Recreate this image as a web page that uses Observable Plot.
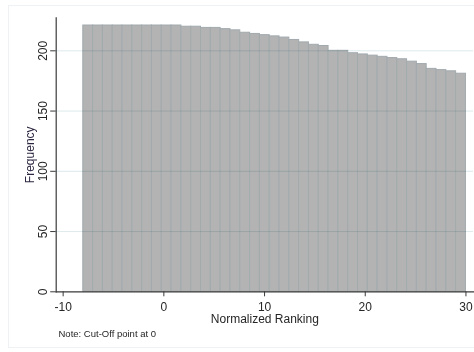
<!DOCTYPE html>
<html>
<head>
<meta charset="utf-8">
<script src="https://cdn.jsdelivr.net/npm/d3@7"></script>
<script src="https://cdn.jsdelivr.net/npm/@observablehq/plot@0.6"></script>
<style>
  html, body { margin: 0; padding: 0; background: #ffffff; }
  #chart { width: 474px; height: 352px; }
</style>
</head>
<body>
<div id="chart"></div>
<script>
// Histogram of normalized ranking: 39 bins spanning [-8, 30]
const binStart = -8;
const binEnd = 30;
const frequencies = [
  221, 221, 221, 221, 221, 221, 221, 221, 221, 221,
  220, 220, 219, 219, 218, 217, 215, 214, 213, 212,
  211, 209, 207, 205, 204, 200, 200, 198, 197, 196,
  195, 194, 193, 191, 189, 185, 184, 183, 181
];
const xTicks = [-10, 0, 10, 20, 30];
const yTicks = [0, 50, 100, 150, 200];
const gridTicks = [50, 100, 150, 200];
const xLabel = "Normalized Ranking";
const yLabel = "Frequency";
const note = "Note: Cut-Off point at 0";

const binWidth = (binEnd - binStart) / frequencies.length;
const bins = frequencies.map((f, i) => ({
  x1: binStart + i * binWidth,
  x2: binStart + (i + 1) * binWidth,
  freq: f
}));

const font = "'Liberation Sans', Arial, Helvetica, sans-serif";
const ink = "#262626";

const chart = Plot.plot({
  width: 474,
  height: 352,
  marginLeft: 55.7,
  marginRight: 1,
  marginTop: 17.3,
  marginBottom: 60.7,
  style: { fontFamily: font, fontSize: "12px", background: "#ffffff", color: ink },
  x: { domain: [-10.69, 30.75] },
  y: { domain: [0, 227.4] },
  marks: [
    Plot.rectY(bins, {
      x1: "x1", x2: "x2", y: "freq",
      fill: "#b3b3b3", stroke: "#a2aaad", strokeWidth: 1
    }),
    Plot.ruleY(gridTicks, { stroke: "#dde9ec", strokeWidth: 1, mixBlendMode: "multiply" }),
    Plot.frame({ anchor: "left", stroke: "#3a3a3a", strokeWidth: 1.2 }),
    Plot.frame({ anchor: "bottom", stroke: "#3a3a3a", strokeWidth: 1.2 }),
    Plot.axisX({
      ticks: xTicks, tickSize: 5, tickPadding: 5.5, label: null,
      tickFormat: d => String(d),
      stroke: "#3a3a3a", fill: ink, fontSize: 12
    }),
    Plot.axisY({
      ticks: yTicks, tickSize: 5.5, label: null, tickFormat: () => "",
      stroke: "#3a3a3a"
    }),
    Plot.text(yTicks, {
      y: d => d, text: d => String(d), frameAnchor: "left", textAnchor: "middle",
      rotate: -90, lineAnchor: "top", dx: -17.4, fontSize: 12, fill: ink
    }),
    Plot.text([yLabel], {
      text: d => d, frameAnchor: "left", textAnchor: "middle", rotate: -90, lineAnchor: "top",
      dx: -30.4, fontSize: 12, fill: "#2d2640"
    }),
    Plot.text([xLabel], {
      text: d => d, frameAnchor: "bottom", lineAnchor: "top",
      dy: 22.3, fontSize: 12, fill: ink
    }),
    Plot.text([note], {
      text: d => d, frameAnchor: "bottom-left", textAnchor: "start", lineAnchor: "top",
      dx: 2.3, dy: 38.7, fontSize: 9.5, fill: ink
    })
  ]
});

// faint outer graph-region border
d3.select(chart).insert("rect", ":first-child")
  .attr("x", 8.5).attr("y", 5.5)
  .attr("width", 470).attr("height", 342)
  .attr("fill", "none").attr("stroke", "#eef2f4");

document.getElementById("chart").appendChild(chart);
</script>
</body>
</html>
